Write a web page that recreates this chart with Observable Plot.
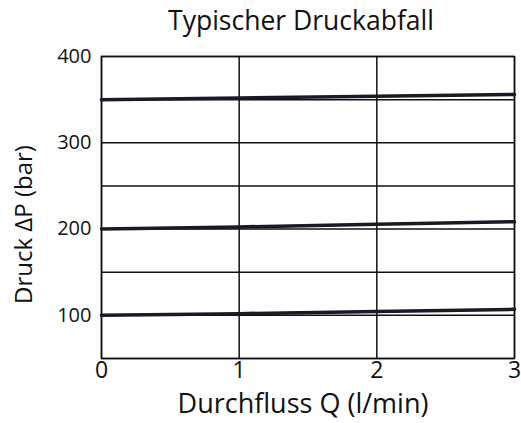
<!DOCTYPE html>
<html>
<head>
<meta charset="utf-8">
<script src="https://cdn.jsdelivr.net/npm/d3@7"></script>
<script src="https://cdn.jsdelivr.net/npm/@observablehq/plot@0.6"></script>
<style>
  html, body { margin: 0; padding: 0; background: #fff; }
  body { width: 521px; height: 423px; overflow: hidden; font-family: "Open Sans", sans-serif; }
  #title { height: 44px; width: 521px; position: relative; }
  #title span { position: absolute; left: 301px; top: 1px; transform: translateX(-50%); font-size: 26.5px; line-height: 38px; color: #111; white-space: nowrap; }
</style>
</head>
<body>
<div id="title"><span>Typischer Druckabfall</span></div>
<div id="chart"></div>
<script>
const flow = [0, 1, 2, 3];
const p350 = [350, 352, 354, 356];
const p200 = [200, 202.5, 205.5, 208.5];
const p100 = [100, 102, 104.5, 107];
const xTicks = [0, 1, 2, 3];
const yTicks = [100, 200, 300, 400];
const yGrid = [50, 100, 150, 200, 250, 300, 350, 400];
const xLabel = "Durchfluss Q (l/min)";
const yLabel = "Druck ΔP (bar)";

const series = [p350, p200, p100];
const rows = series.flatMap((s, i) => s.map((v, j) => ({q: flow[j], p: v, s: i})));

const chart = Plot.plot({
  width: 521,
  height: 379,
  marginLeft: 101,
  marginRight: 7,
  marginTop: 12,
  marginBottom: 65,
  style: {fontFamily: "Open Sans, sans-serif", fontSize: "20px", color: "#111", background: "#fff", overflow: "visible"},
  x: {domain: [0, 3]},
  y: {domain: [50, 400]},
  marks: [
    Plot.ruleY(yGrid, {stroke: "#111", strokeWidth: 1.5}),
    Plot.ruleX(xTicks, {stroke: "#111", strokeWidth: 1.5}),
    Plot.frame({stroke: "#111", strokeWidth: 1.5}),
    Plot.line(rows, {x: "q", y: "p", z: "s", stroke: "#1a1a24", strokeWidth: 3.5}),
    Plot.axisY({ticks: yTicks, tickSize: 0, tickPadding: 10, fontSize: 20, tickFormat: "d", label: null}),
    Plot.axisX({ticks: xTicks, tickSize: 0, tickPadding: 3, fontSize: 23, tickFormat: "d", label: null}),
    Plot.text([yLabel], {frameAnchor: "left", rotate: -90, dx: -77, dy: 17, textAnchor: "middle", lineAnchor: "middle", fontSize: 24, fill: "#111"}),
    Plot.text([xLabel], {frameAnchor: "bottom", dy: 46, dx: -5, textAnchor: "middle", lineAnchor: "middle", fontSize: 27, fill: "#111"})
  ]
});
document.getElementById("chart").appendChild(chart);
</script>
</body>
</html>
